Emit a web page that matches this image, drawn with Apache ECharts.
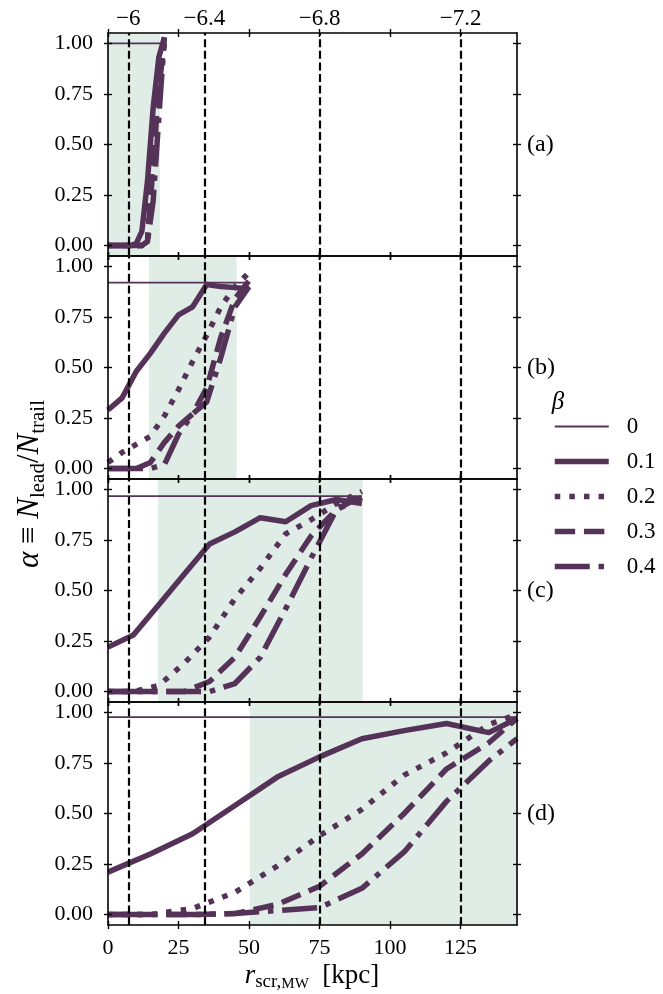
<!DOCTYPE html>
<html>
<head>
<meta charset="utf-8">
<script src="https://cdn.jsdelivr.net/npm/echarts@6/dist/echarts.min.js"></script>
<style>
  html, body { margin: 0; padding: 0; background: #fff; }
  #chart { width: 663px; height: 994px; }
</style>
</head>
<body>
<div id="chart"></div>
<script>
// beta values (legend)
const betaNames = ['0', '0.1', '0.2', '0.3', '0.4'];

// panel (a)
const xA = [0, 2, 4, 6, 8, 10, 12, 14, 16, 18, 20];
const xA0 = [0, 20];
const a0 = [1.0, 1.0];
const a1 = [0, 0, 0, 0, 0, 0.01, 0.07, 0.32, 0.68, 0.93, 1.03];
const a2 = [0, 0, 0, 0, 0, 0, 0, 0.03, 0.48, 0.83, 1.02];
const a3 = [0, 0, 0, 0, 0, 0, 0, 0.02, 0.4, 0.78, 1.0];
const a4 = [0, 0, 0, 0, 0, 0, 0, 0.02, 0.22, 0.63, 1.03];

// panel (b)
const xB = [0, 5, 10, 15, 20, 25, 30, 35, 40, 45, 50];
const xB0 = [0, 50];
const b0 = [0.92, 0.92];
const b1 = [0.29, 0.35, 0.48, 0.57, 0.67, 0.76, 0.8, 0.91, 0.9, 0.895, 0.89];
const b2 = [0.03, 0.08, 0.12, 0.16, 0.26, 0.39, 0.53, 0.66, 0.8, 0.9, 0.97];
const b3 = [0, 0, 0, 0.03, 0.13, 0.21, 0.27, 0.4, 0.65, 0.84, 0.93];
const b4 = [0, 0, 0, 0, 0.02, 0.17, 0.27, 0.33, 0.55, 0.8, 0.9];

// panel (c)
const xC = [0, 9, 18, 27, 36, 45, 54, 63, 72, 81, 90];
const xC0 = [0, 90];
const c0 = [0.967, 0.967];
const c1 = [0.22, 0.28, 0.43, 0.58, 0.73, 0.79, 0.86, 0.84, 0.92, 0.95, 0.93];
const c2 = [0, 0, 0.03, 0.14, 0.27, 0.46, 0.61, 0.78, 0.85, 0.93, 0.99];
const c3 = [0, 0, 0, 0, 0.05, 0.17, 0.37, 0.58, 0.77, 0.9, 0.97];
const c4 = [0, 0, 0, 0, 0, 0.04, 0.17, 0.41, 0.66, 0.9, 0.96];

// panel (d)
const xD = [0, 15, 30, 45, 60, 75, 90, 105, 120, 135, 145];
const xD0 = [0, 145];
const d0 = [0.977, 0.977];
const d1 = [0.21, 0.3, 0.4, 0.54, 0.68, 0.78, 0.87, 0.91, 0.945, 0.9, 0.97];
const d2 = [0, 0, 0.03, 0.11, 0.24, 0.39, 0.52, 0.69, 0.8, 0.94, 0.99];
const d3 = [0, 0, 0, 0.005, 0.05, 0.14, 0.3, 0.5, 0.72, 0.85, 0.97];
const d4 = [0, 0, 0, 0.005, 0.02, 0.035, 0.13, 0.31, 0.56, 0.76, 0.87];

// shaded ranges per panel (kpc)
const shadeA = [0, 18.4];
const shadeB = [14.5, 45.6];
const shadeC = [17.7, 90.3];
const shadeD = [50.3, 145];

// vertical dashed lines and top-axis labels
const markX = [7.2, 34.2, 75, 125];
const topLabels = ['\u22126', '\u22126.4', '\u22126.8', '\u22127.2'];

// ticks
const xTicks = [0, 25, 50, 75, 100, 125];
const yTicks = [0, 0.25, 0.5, 0.75, 1.0];
const panelLabels = ['(a)', '(b)', '(c)', '(d)'];

const panels = [
  { x: xA, x0: xA0, y0: a0, ys: [a1, a2, a3, a4], shade: shadeA },
  { x: xB, x0: xB0, y0: b0, ys: [b1, b2, b3, b4], shade: shadeB },
  { x: xC, x0: xC0, y0: c0, ys: [c1, c2, c3, c4], shade: shadeC },
  { x: xD, x0: xD0, y0: d0, ys: [d1, d2, d3, d4], shade: shadeD }
];

const FONT = 'Liberation Serif';
const PURPLE = '#553358';
const GREEN = '#e0ede6';
const BLACK = '#000';
const tops = [33, 256, 479, 702];
const PH = 223;

const dashes = [null, null, [5.5, 9.1], [20.4, 8.8], [35, 8.8, 5.5, 8.8]];
const widths = [1.8, 5.5, 5.5, 5.5, 5.5];

const zip = (xs, ys) => xs.map((v, i) => [v, ys[i]]);

function axisCommon(g) {
  return { gridIndex: g, type: 'value', splitLine: { show: false }, z: 6 };
}
const axLine = { show: true, onZero: false, lineStyle: { color: BLACK, width: 1.6 } };
const noLine = { show: false, onZero: false };
function tick(inside, vals) {
  return { show: true, inside: inside, length: 4, customValues: vals, lineStyle: { color: BLACK, width: 1.4 } };
}
const labelStyle = { color: BLACK, fontFamily: FONT, fontSize: 22 };

const grids = [], xAxes = [], yAxes = [], series = [];

panels.forEach((p, g) => {
  grids.push({ left: 108, width: 409, top: tops[g], height: PH });
  const xc = Object.assign(axisCommon(g), { min: 0, max: 145 });
  const yc = Object.assign(axisCommon(g), { min: -0.0514, max: 1.0514 });

  xAxes.push(Object.assign({}, xc, {
    position: 'bottom', axisLine: axLine, axisTick: tick(false, xTicks),
    axisLabel: g === 3
      ? Object.assign({ show: true, margin: 12, customValues: xTicks }, labelStyle)
      : { show: false }
  }));
  xAxes.push(Object.assign({}, xc, { position: 'bottom', axisLine: noLine, axisTick: tick(true, xTicks), axisLabel: { show: false } }));
  xAxes.push(Object.assign({}, xc, {
    position: 'top', axisLine: axLine, axisTick: tick(false, xTicks),
    axisLabel: g === 0
      ? Object.assign({
          show: true, margin: 3, customValues: markX,
          formatter: v => topLabels[markX.indexOf(v)]
        }, labelStyle, { fontSize: 23 })
      : { show: false }
  }));
  xAxes.push(Object.assign({}, xc, { position: 'top', axisLine: noLine, axisTick: tick(true, xTicks), axisLabel: { show: false } }));

  yAxes.push(Object.assign({}, yc, {
    position: 'left', axisLine: axLine, axisTick: tick(false, yTicks),
    axisLabel: Object.assign({ show: true, margin: 15, customValues: yTicks, formatter: v => v.toFixed(2) }, labelStyle)
  }));
  yAxes.push(Object.assign({}, yc, { position: 'left', axisLine: noLine, axisTick: tick(true, yTicks), axisLabel: { show: false } }));
  yAxes.push(Object.assign({}, yc, { position: 'right', axisLine: axLine, axisTick: tick(false, yTicks), axisLabel: { show: false } }));
  yAxes.push(Object.assign({}, yc, { position: 'right', axisLine: noLine, axisTick: tick(true, yTicks), axisLabel: { show: false } }));

  const xi = g * 4, yi = g * 4;
  // beta = 0 line, carries the shaded band and dashed verticals
  series.push({
    name: betaNames[0], type: 'line', xAxisIndex: xi, yAxisIndex: yi,
    data: zip(p.x0, p.y0), symbol: 'none', silent: true, z: 3,
    lineStyle: { color: PURPLE, width: widths[0] },
    markArea: {
      silent: true, z: 1,
      itemStyle: { color: GREEN, opacity: 1 },
      data: [[{ xAxis: p.shade[0] }, { xAxis: p.shade[1] }]]
    },
    markLine: {
      silent: true, symbol: ['none', 'none'], z: 5,
      label: { show: false },
      lineStyle: { color: BLACK, width: 2.2, type: [8, 3.6], opacity: 1 },
      emphasis: { disabled: true },
      data: markX.map(v => ({ xAxis: v }))
    }
  });
  p.ys.forEach((ys, k) => {
    series.push({
      name: betaNames[k + 1], type: 'line', xAxisIndex: xi, yAxisIndex: yi,
      data: zip(p.x, ys), symbol: 'none', silent: true, z: 3,
      lineStyle: { color: PURPLE, width: widths[k + 1], type: dashes[k + 1] || 'solid', cap: 'butt', join: 'round' }
    });
  });
});

const graphics = panelLabels.map((t, g) => ({
  type: 'text', x: 527, y: tops[g] + PH / 2,
  style: { text: t, font: '24px "' + FONT + '"', fill: BLACK, verticalAlign: 'middle', align: 'left' }
}));

graphics.push({
  type: 'text', x: 30, y: 484, rotation: Math.PI / 2,
  style: {
    text: '{i|\u03b1}{n| \u2261 }{i|N}{s|lead}{n|/}{i|N}{s|trail}',
    align: 'center', verticalAlign: 'middle', fill: BLACK,
    rich: {
      i: { fontFamily: FONT, fontStyle: 'italic', fontSize: 31, lineHeight: 38, verticalAlign: 'middle' },
      n: { fontFamily: FONT, fontSize: 31, lineHeight: 38, verticalAlign: 'middle' },
      s: { fontFamily: FONT, fontSize: 21, lineHeight: 20, verticalAlign: 'bottom' }
    }
  }
});

graphics.push({
  type: 'text', x: 312, y: 976,
  style: {
    text: '{i|r}{s|scr,}{c|MW}{n|  [kpc]}',
    align: 'center', verticalAlign: 'middle', fill: BLACK,
    rich: {
      i: { fontFamily: FONT, fontStyle: 'italic', fontSize: 27, lineHeight: 32, verticalAlign: 'middle' },
      n: { fontFamily: FONT, fontSize: 27, lineHeight: 32, verticalAlign: 'middle' },
      s: { fontFamily: FONT, fontSize: 19, lineHeight: 17, verticalAlign: 'bottom' },
      c: { fontFamily: FONT, fontSize: 15, lineHeight: 16, verticalAlign: 'bottom' }
    }
  }
});

graphics.push({
  type: 'text', x: 558, y: 402,
  style: { text: '\u03b2', font: 'italic 25px "' + FONT + '"', fill: BLACK, align: 'center', verticalAlign: 'middle' }
});

const chart = echarts.init(document.getElementById('chart'), null, { renderer: 'canvas' });
chart.setOption({
  animation: false,
  backgroundColor: '#fff',
  grid: grids,
  xAxis: xAxes,
  yAxis: yAxes,
  legend: {
    data: betaNames, orient: 'vertical', left: 547, top: 409.5,
    itemWidth: 54, itemHeight: 14, itemGap: 11, selectedMode: false,
    itemStyle: { opacity: 0 },
    lineStyle: { width: 'inherit' },
    textStyle: { fontFamily: FONT, fontSize: 23, color: BLACK, lineHeight: 24, padding: [0, 0, 0, 13] }
  },
  series: series,
  graphic: graphics
});
</script>
</body>
</html>
